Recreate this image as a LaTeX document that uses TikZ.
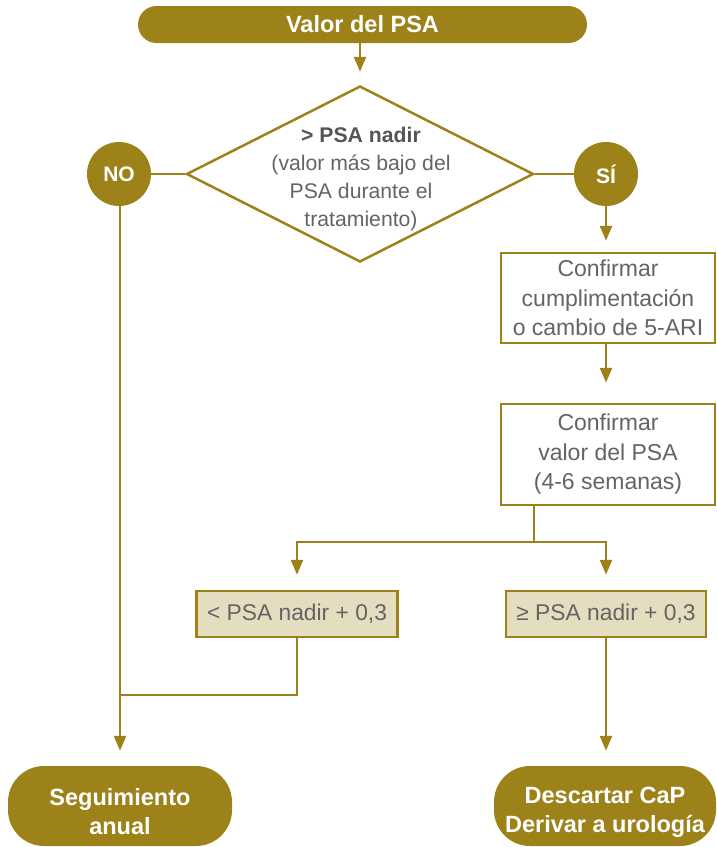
\documentclass[tikz,border=0pt]{standalone}
\usepackage{fontspec}
\setmainfont{Liberation Sans}
\usetikzlibrary{shapes.geometric,arrows.meta}
\definecolor{gold}{RGB}{157,130,26}
\definecolor{beige}{RGB}{229,221,192}
\definecolor{txt}{RGB}{100,100,100}
\definecolor{dtxt}{RGB}{85,85,85}
\begin{document}
\begin{tikzpicture}[x=1pt,y=-1pt,
  line/.style={draw=gold,line width=2.5pt},
  arr/.style={line,-{Triangle[width=12pt,length=15pt]}},
  pill/.style={fill=gold,text=white,font=\fontsize{23.5}{29}\selectfont\bfseries,align=center,inner sep=0pt},
  circ/.style={circle,fill=gold,text=white,font=\fontsize{21}{24}\selectfont\bfseries,minimum size=64pt,inner sep=0pt},
  stepbox/.style={rectangle,draw=gold,line width=2.5pt,fill=white,text=txt,font=\fontsize{23}{29.5}\selectfont,align=center,inner sep=0pt,minimum width=214pt},
  condbox/.style={rectangle,draw=gold,line width=2.5pt,fill=beige,text=txt,font=\fontsize{22.8}{26}\selectfont,inner sep=0pt,minimum width=201pt,minimum height=46pt}
]
\useasboundingbox (0,0) rectangle (716,847);
\fill[white] (0,0) rectangle (716,847);

\node[pill,rounded corners=18.5pt,minimum width=449pt,minimum height=37pt] (top) at (362.5,24.5) {Valor del PSA};

\node[diamond,draw=gold,line width=2.5pt,fill=white,minimum width=347pt,minimum height=176pt,inner sep=0pt] (d) at (360,174) {};
\node[text=txt,align=center,font=\fontsize{21.2}{27.7}\selectfont] (dt) at (361,179) {\textcolor{dtxt}{\textbf{> PSA nadir}}\\(valor más bajo del\\PSA durante el\\tratamiento)};

\node[circ] (no) at (119,174) {NO};
\node[circ] (si) at (606,174) {SÍ};

\node[stepbox,minimum height=90pt] (b1) at (608,298) {Confirmar\\cumplimentación\\o cambio de 5-ARI};
\node[stepbox,minimum height=101pt] (b2) at (608,454.5) {Confirmar\\valor del PSA\\(4-6 semanas)};

\node[condbox] (c1) at (297,614) {< PSA nadir + 0,3};
\node[condbox,minimum width=200pt] (c2) at (606,614) {≥ PSA nadir + 0,3};

\node[pill,rounded corners=36pt,minimum width=224pt,minimum height=80pt] (e1) at (120,806) {\rule{0pt}{29pt}Seguimiento\\anual};
\node[pill,rounded corners=36pt,minimum width=222pt,minimum height=80pt] (e2) at (605,806) {\rule{0pt}{29pt}Descartar CaP\\Derivar a urología};

\coordinate (split) at (534,542);
\coordinate (join) at (120,695);

\draw[arr,shorten >=13pt] (top.south -| d.north) -- (d.north);
\draw[line] (no.east) -- (d.west);
\draw[line] (d.east) -- (si.west);
\draw[arr,shorten >=11pt] (si.south) -- (si.south |- b1.north);
\draw[arr,shorten >=20pt] (b1.south -| si) -- (b2.north -| si);
\draw[line] (b2.south -| split) -- (split);
\draw[arr,shorten >=15pt] (split) -| (c1.north);
\draw[arr,shorten >=15pt] (split) -| (c2.north);
\draw[line] (c1.south) |- (join);
\draw[arr,shorten >=15pt] (no.south -| join) -- (e1.north -| join);
\draw[arr,shorten >=15pt] (c2.south) -- (c2.south |- e2.north);
\end{tikzpicture}
\end{document}
